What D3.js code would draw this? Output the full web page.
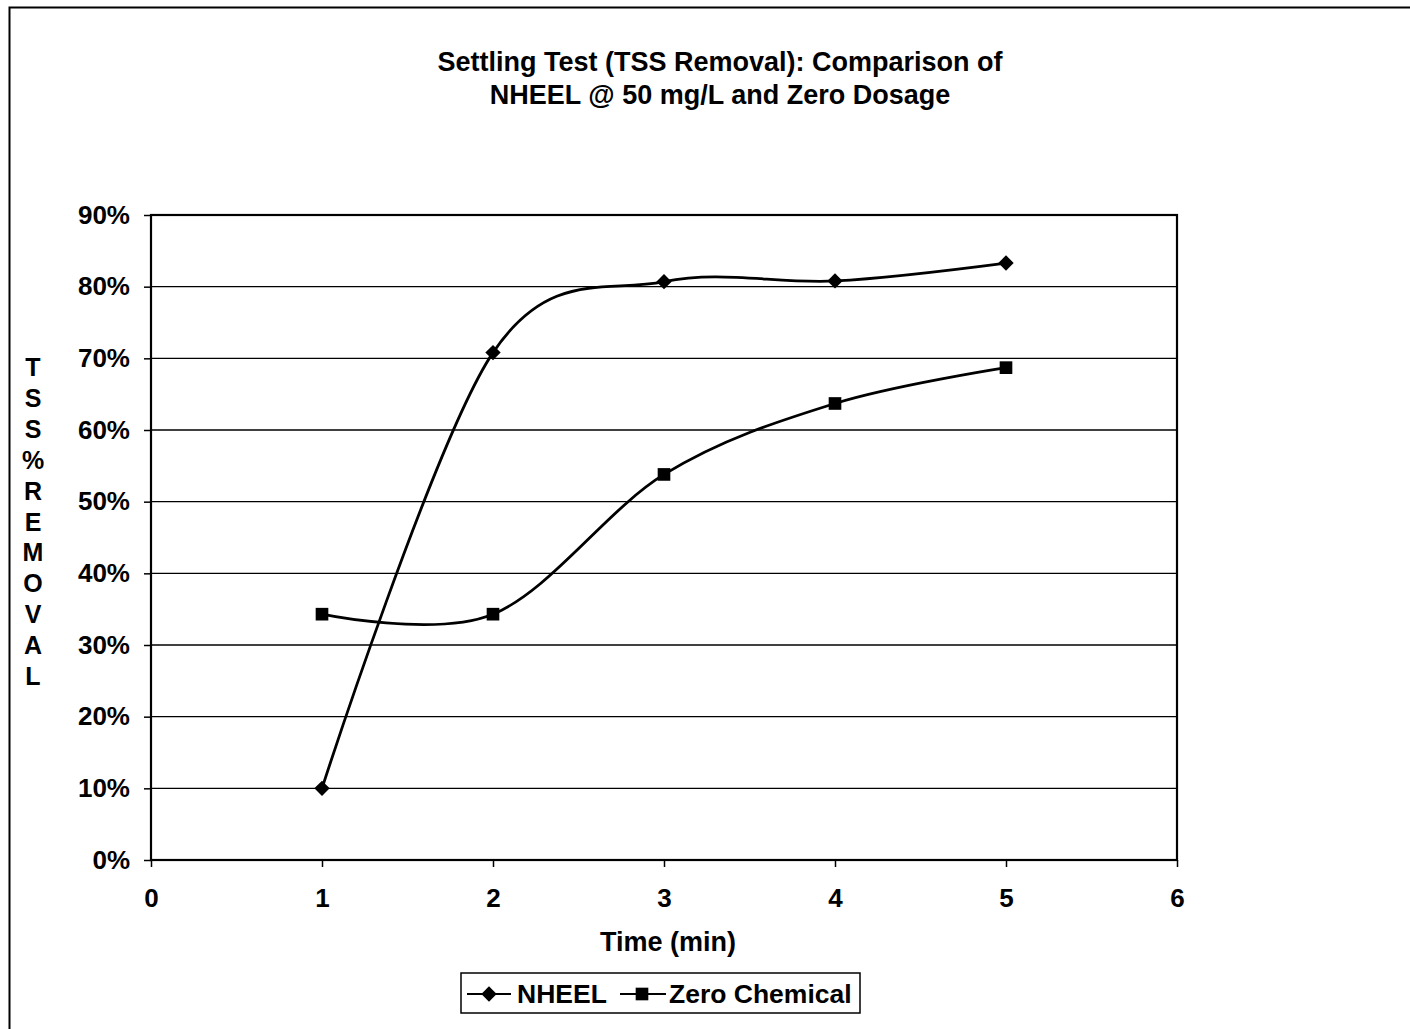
<!DOCTYPE html>
<html><head><meta charset="utf-8">
<script src="https://cdn.jsdelivr.net/npm/d3@7"></script>
<style>html,body{margin:0;padding:0;background:#fff;} text{font-family:"Liberation Sans",Arial,sans-serif;font-weight:bold;fill:#000;}</style>
</head><body>
<svg id="c" width="1410" height="1029"></svg>
<script>
const times = [1, 2, 3, 4, 5];
const nheel = [0.10, 0.708, 0.807, 0.808, 0.833];
const zero = [0.343, 0.343, 0.538, 0.637, 0.687];
const xTicks = [0, 1, 2, 3, 4, 5, 6];
const yTicks = [0, 0.1, 0.2, 0.3, 0.4, 0.5, 0.6, 0.7, 0.8, 0.9];
const titleLines = ["Settling Test (TSS Removal): Comparison of", "NHEEL @ 50 mg/L and Zero Dosage"];
const yLabel = "TSS%REMOVAL".split("");
const xLabel = "Time (min)";
const seriesNames = ["NHEEL", "Zero Chemical"];

const FONT = "Liberation Sans, Arial, sans-serif";
const svg = d3.select("#c");
// outer frame (only top & left visible)
svg.append("rect").attr("x", 9.5).attr("y", 7.5).attr("width", 1420).attr("height", 1040)
  .attr("fill", "none").attr("stroke", "#000").attr("stroke-width", 2);

const L = 151, R = 1177, T = 215, B = 860;
const x = d3.scaleLinear().domain([0, 6]).range([L, R]);
const y = d3.scaleLinear().domain([0, 0.9]).range([B, T]);

// gridlines
svg.append("g").selectAll("line").data(yTicks.slice(1)).join("line")
  .attr("x1", L).attr("x2", R).attr("y1", d => y(d)).attr("y2", d => y(d))
  .attr("stroke", "#000").attr("stroke-width", 1.4);

// plot frame
svg.append("rect").attr("x", L).attr("y", T).attr("width", R - L).attr("height", B - T)
  .attr("fill", "none").attr("stroke", "#000").attr("stroke-width", 2.2);

// y axis
const yAxis = d3.axisLeft(y).tickValues(yTicks).tickFormat(d3.format(".0%")).tickSize(7).tickPadding(14);
const gy = svg.append("g").attr("transform", `translate(${L},0)`).call(yAxis);
gy.select(".domain").remove();
gy.selectAll("line").attr("stroke", "#000").attr("stroke-width", 1.5);
gy.selectAll("text").style("font-size", "26px").style("font-family", FONT).style("font-weight", "bold").attr("fill", "#000");

// x axis
const xAxis = d3.axisBottom(x).tickValues(xTicks).tickFormat(d3.format("d")).tickSize(7).tickPadding(22);
const gx = svg.append("g").attr("transform", `translate(0,${B})`).call(xAxis);
gx.select(".domain").remove();
gx.selectAll("line").attr("stroke", "#000").attr("stroke-width", 1.5);
gx.selectAll("text").style("font-size", "26px").style("font-family", FONT).style("font-weight", "bold").attr("fill", "#000");

// title
svg.append("g").selectAll("text").data(titleLines).join("text")
  .attr("x", 720).attr("y", (d, i) => 71 + i * 33).attr("text-anchor", "middle")
  .style("font-size", "27px").text(d => d);

// y label stacked
svg.append("g").selectAll("text").data(yLabel).join("text")
  .attr("x", 33).attr("y", (d, i) => 376 + i * 30.9).attr("text-anchor", "middle")
  .style("font-size", "25px").text(d => d);

// x label
svg.append("text").attr("x", 668).attr("y", 951).attr("text-anchor", "middle")
  .style("font-size", "27px").text(xLabel);

// lines
const line = d3.line().x(d => x(d[0])).y(d => y(d[1])).curve(d3.curveCardinal.tension(0));
const nData = times.map((t, i) => [t, nheel[i]]);
const zData = times.map((t, i) => [t, zero[i]]);
svg.append("path").attr("d", line(nData)).attr("fill", "none").attr("stroke", "#000").attr("stroke-width", 2.8);
svg.append("path").attr("d", line(zData)).attr("fill", "none").attr("stroke", "#000").attr("stroke-width", 2.8);

const diamond = d3.symbol().type(d3.symbolDiamond2).size(150);
const square = d3.symbol().type(d3.symbolSquare).size(160);
svg.append("g").selectAll("path").data(nData).join("path")
  .attr("transform", d => `translate(${x(d[0])},${y(d[1])})`).attr("d", diamond).attr("fill", "#000");
svg.append("g").selectAll("path").data(zData).join("path")
  .attr("transform", d => `translate(${x(d[0])},${y(d[1])})`).attr("d", square).attr("fill", "#000");

// legend
const lg = svg.append("g");
lg.append("rect").attr("x", 461).attr("y", 973).attr("width", 399).attr("height", 40)
  .attr("fill", "#fff").attr("stroke", "#000").attr("stroke-width", 1.5);
lg.append("line").attr("x1", 467).attr("x2", 511).attr("y1", 994).attr("y2", 994).attr("stroke", "#000").attr("stroke-width", 2);
lg.append("path").attr("transform", "translate(489,994)").attr("d", diamond).attr("fill", "#000");
lg.append("text").attr("x", 517).attr("y", 1003).style("font-size", "26.5px").text(seriesNames[0]);
lg.append("line").attr("x1", 620).attr("x2", 666).attr("y1", 994).attr("y2", 994).attr("stroke", "#000").attr("stroke-width", 2);
lg.append("path").attr("transform", "translate(642,994)").attr("d", square).attr("fill", "#000");
lg.append("text").attr("x", 669).attr("y", 1003).style("font-size", "26.5px").text(seriesNames[1]);
</script>
</body></html>
